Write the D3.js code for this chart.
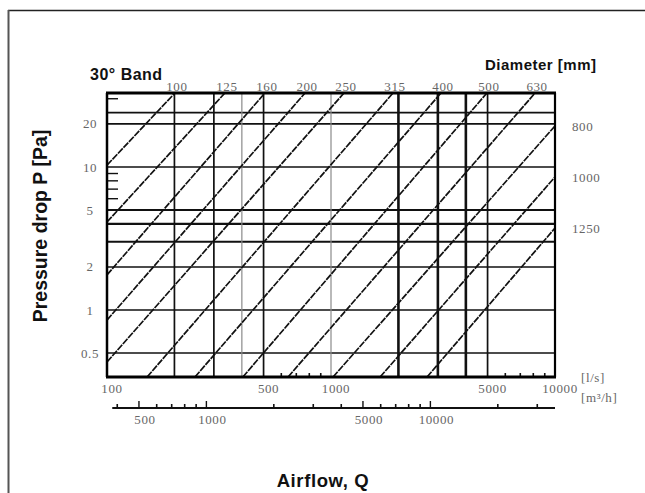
<!DOCTYPE html>
<html>
<head>
<meta charset="utf-8">
<script src="https://cdn.jsdelivr.net/npm/d3@7"></script>
<style>
  body { margin: 0; background: #fff; }
  svg { display: block; }
</style>
</head>
<body>
<svg id="chart"></svg>
<script>
// duct diameters [mm], one band line each
const diameters = [100, 125, 160, 200, 250, 315, 400, 500, 630, 800, 1000, 1250];
// line ends read at the frame edges: airflow Q [l/s], pressure drop P [Pa]
const lineStartQ = [100, 100, 100, 100, 100, 151, 247, 404, 643, 1021, 1656, 2683];
const lineStartP = [10.3, 4.12, 1.76, 0.85, 0.433, 0.34, 0.34, 0.34, 0.34, 0.34, 0.34, 0.34];
const lineEndQ = [201, 336, 507, 766, 1143, 1892, 3097, 4967, 8147, 10000, 10000, 10000];
const lineEndP = [32.9, 32.9, 32.9, 32.9, 32.9, 32.9, 32.9, 32.9, 32.9, 19.35, 8.51, 3.74];

const pressureTicks = [0.5, 1, 2, 5, 10, 20];
const pressureGrid = [0.5, 1, 2, 3, 4, 5, 10, 20, 24];
const pressureMinor = [6, 7, 8, 9, 30];
const flowTicks = [100, 500, 1000, 5000, 10000];
const flowGrid = [200, 300, 400, 500, 1000, 2000, 3000, 4000, 5000];
const flowMinor = [600, 700, 800, 900, 6000, 7000, 8000, 9000];
const m3hTicks = [500, 1000, 5000, 10000];
const m3hMinor = [400, 600, 700, 800, 900, 2000, 3000, 4000, 6000, 7000, 8000, 9000, 20000, 30000];

const width = 645, height = 493;
const margin = {top: 93, right: 90, bottom: 116, left: 107};
const serif = "'Liberation Serif', 'Times New Roman', serif";
const sans = "'Liberation Sans', Arial, sans-serif";

const svg = d3.select("#chart").attr("width", width).attr("height", height);
svg.append("rect").attr("width", width).attr("height", height).attr("fill", "#fff");

// page border (scan edge)
svg.append("line").attr("x1", 8).attr("x2", width).attr("y1", 10.5).attr("y2", 10.5)
  .attr("stroke", "#222").attr("stroke-width", 1.6);
svg.append("line").attr("x1", 8.5).attr("x2", 8.5).attr("y1", 10).attr("y2", height)
  .attr("stroke", "#555").attr("stroke-width", 2);

const x = d3.scaleLog().domain([100, 10000]).range([margin.left, width - margin.right]);
const y = d3.scaleLog().domain([0.34, 32.9]).range([height - margin.bottom, margin.top]);
// same airflow in m3/h (1 l/s = 3.6 m3/h)
const xm = d3.scaleLog().domain([360, 36000]).range(x.range());

const x0 = x.range()[0], x1 = x.range()[1];
const y0 = y.range()[0], y1 = y.range()[1];

svg.append("clipPath").attr("id", "plot")
  .append("rect").attr("x", x0).attr("y", y1).attr("width", x1 - x0).attr("height", y0 - y1);

const g = svg.append("g");

// horizontal grid
const heavyP = new Set([3, 4, 5]);
g.selectAll(".hgrid").data(pressureGrid).enter().append("line")
  .attr("x1", x0).attr("x2", x1)
  .attr("y1", d => y(d)).attr("y2", d => y(d))
  .attr("stroke", "#111")
  .attr("stroke-width", d => heavyP.has(d) ? 2.2 : 1.6);

// vertical grid
const heavyQ = new Set([2000, 3000, 4000]);
const lightQ = new Set([400, 1000]);
g.selectAll(".vgrid").data(flowGrid).enter().append("line")
  .attr("x1", d => x(d)).attr("x2", d => x(d))
  .attr("y1", y1).attr("y2", y0)
  .attr("stroke", d => lightQ.has(d) ? "#8a8a8a" : "#111")
  .attr("stroke-width", d => heavyQ.has(d) ? 2.6 : lightQ.has(d) ? 1.2 : 1.7);

// band lines
g.append("g").attr("clip-path", "url(#plot)")
  .selectAll("line").data(diameters).enter().append("line")
  .attr("x1", (d, i) => x(lineStartQ[i])).attr("y1", (d, i) => y(lineStartP[i]))
  .attr("x2", (d, i) => x(lineEndQ[i])).attr("y2", (d, i) => y(lineEndP[i]))
  .attr("stroke", "#111").attr("stroke-width", 1.7)
  .attr("stroke-dasharray", "7 1");

// minor ticks inside the frame
g.selectAll(".ymin").data(pressureMinor).enter().append("line")
  .attr("x1", x0).attr("x2", x0 + 11)
  .attr("y1", d => y(d)).attr("y2", d => y(d))
  .attr("stroke", "#111").attr("stroke-width", 1.4);
g.selectAll(".xmin").data(flowMinor).enter().append("line")
  .attr("x1", d => x(d)).attr("x2", d => x(d))
  .attr("y1", y0).attr("y2", y0 - 4)
  .attr("stroke", "#111").attr("stroke-width", 1.6);

// frame
g.append("line").attr("x1", x0 - 1).attr("x2", x1 + 1).attr("y1", y1).attr("y2", y1).attr("stroke", "#000").attr("stroke-width", 3);
g.append("line").attr("x1", x0 - 1).attr("x2", x1 + 1).attr("y1", y0).attr("y2", y0).attr("stroke", "#000").attr("stroke-width", 3);
g.append("line").attr("x1", x0).attr("x2", x0).attr("y1", y1).attr("y2", y0).attr("stroke", "#000").attr("stroke-width", 2.5);
g.append("line").attr("x1", x1).attr("x2", x1).attr("y1", y1).attr("y2", y0).attr("stroke", "#000").attr("stroke-width", 2.2);

const labelStyle = sel => sel
  .attr("font-family", serif).attr("font-size", 13)
  .attr("letter-spacing", 0.6).attr("fill", "#666");

// pressure labels
svg.selectAll(".ylab").data(pressureTicks).enter().append("text")
  .attr("x", 90).attr("y", d => y(d)).attr("dy", "0.35em")
  .attr("text-anchor", "middle")
  .text(d => d)
  .call(labelStyle);

// airflow l/s labels
svg.selectAll(".xlab").data(flowTicks).enter().append("text")
  .attr("x", d => x(d) + 5).attr("y", y0 + 16)
  .attr("text-anchor", "middle")
  .text(d => d)
  .call(labelStyle);
svg.append("text").attr("x", x1 + 26).attr("y", y0 + 5).text("[l/s]").call(labelStyle);

// second airflow axis in m3/h
const ym = 408;
svg.append("line").attr("x1", xm(380)).attr("x2", x1).attr("y1", ym).attr("y2", ym)
  .attr("stroke", "#111").attr("stroke-width", 2);
svg.selectAll(".mmaj").data(m3hTicks).enter().append("line")
  .attr("x1", d => xm(d)).attr("x2", d => xm(d))
  .attr("y1", ym).attr("y2", ym - 7)
  .attr("stroke", "#111").attr("stroke-width", 1.4);
svg.selectAll(".mmin").data(m3hMinor).enter().append("line")
  .attr("x1", d => xm(d)).attr("x2", d => xm(d))
  .attr("y1", ym).attr("y2", ym - 4)
  .attr("stroke", "#111").attr("stroke-width", 1.6);
svg.selectAll(".mlab").data(m3hTicks).enter().append("text")
  .attr("x", d => xm(d) + 6).attr("y", ym + 16)
  .attr("text-anchor", "middle")
  .text(d => d)
  .call(labelStyle);
svg.append("text").attr("x", x1 + 26).attr("y", ym - 6).text("[m³/h]").call(labelStyle);

// diameter labels at the line ends
svg.selectAll(".dlab").data(diameters).enter().append("text")
  .attr("x", (d, i) => lineEndQ[i] < 10000 ? x(lineEndQ[i]) + 2 : x1 + 17)
  .attr("y", (d, i) => lineEndQ[i] < 10000 ? y1 - 7 : y(lineEndP[i]))
  .attr("dy", "0.35em")
  .attr("text-anchor", (d, i) => lineEndQ[i] < 10000 ? "middle" : "start")
  .text(d => d)
  .call(labelStyle);

// titles
svg.append("text").attr("x", 90).attr("y", 80)
  .attr("font-family", sans).attr("font-weight", "bold").attr("font-size", 16)
  .attr("letter-spacing", 0.5).attr("fill", "#111")
  .text("30°  Band");
svg.append("text").attr("x", 485).attr("y", 70)
  .attr("font-family", sans).attr("font-weight", "bold").attr("font-size", 15)
  .attr("letter-spacing", 0.5).attr("fill", "#111")
  .text("Diameter [mm]");
svg.append("text")
  .attr("transform", "translate(47," + 226 + ") rotate(-90)")
  .attr("text-anchor", "middle")
  .attr("font-family", sans).attr("font-weight", "bold").attr("font-size", 19.5)
  .attr("fill", "#111")
  .text("Pressure drop P [Pa]");
svg.append("text").attr("x", 323).attr("y", 487)
  .attr("text-anchor", "middle")
  .attr("font-family", sans).attr("font-weight", "bold").attr("font-size", 18.5)
  .attr("letter-spacing", 0.6).attr("fill", "#111")
  .text("Airflow, Q");
</script>
</body>
</html>
